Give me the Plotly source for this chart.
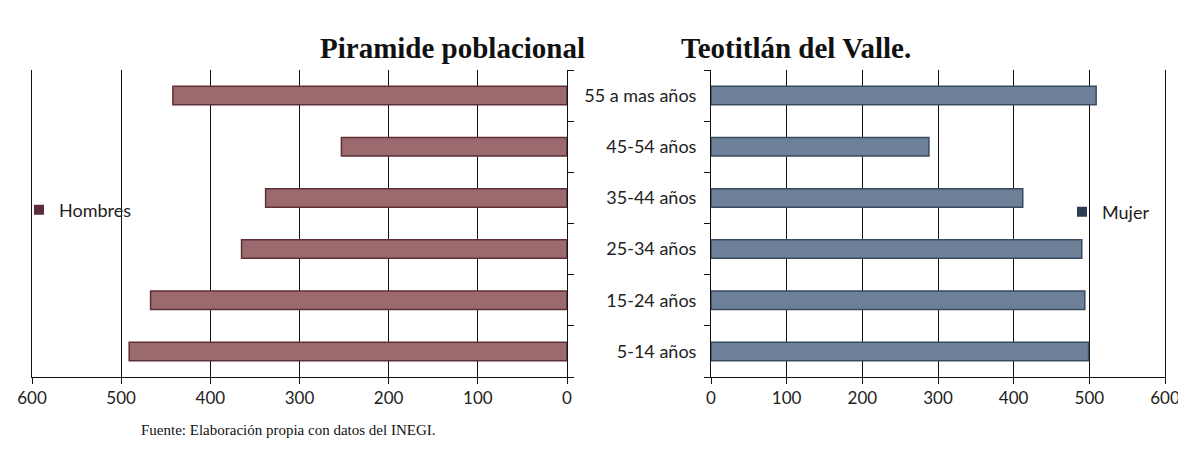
import plotly.graph_objects as go

W, H = 1178, 430
OFF = 8  # page body margin offset

categories = ["5-14 años", "15-24 años", "25-34 años", "35-44 años", "45-54 años", "55 a mas años"]
hombres = [491, 467, 365, 338, 253, 442]
mujeres = [499, 494, 490, 412, 288, 509]
ticks_vals = [0, 100, 200, 300, 400, 500, 600]
ticks_text = ["0", "100", "200", "300", "400", "500", "600"]

def px(x):
    return (x - OFF) / W

def py(y):
    return 1 - (y - OFF) / H

fig = go.Figure()

fig.add_trace(go.Bar(
    y=categories, x=hombres, orientation="h", name="Hombres",
    xaxis="x", yaxis="y", width=0.36, showlegend=False,
    marker=dict(color="#9b6a6e", line=dict(color="#5e2f36", width=1.5)),
))
fig.add_trace(go.Bar(
    y=categories, x=mujeres, orientation="h", name="Mujer",
    xaxis="x2", yaxis="y2", width=0.36, showlegend=False,
    marker=dict(color="#6c8098", line=dict(color="#3a4a5f", width=1.5)),
))
# legend entries
fig.add_trace(go.Scatter(
    x=[None], y=[None], mode="markers", name="Hombres", xaxis="x", yaxis="y",
    marker=dict(symbol="square", size=10, color="#5c2c3b"), legend="legend",
))
fig.add_trace(go.Scatter(
    x=[None], y=[None], mode="markers", name="Mujer", xaxis="x2", yaxis="y2",
    marker=dict(symbol="square", size=10, color="#2f3e54"), legend="legend2",
))

FONT = "Lato, Carlito, Calibri, sans-serif"
tickfont = dict(family=FONT, size=17, color="#222")
ydom = [py(377), py(70)]

fig.update_layout(
    width=W, height=H,
    margin=dict(l=0, r=0, t=0, b=0, autoexpand=False),
    paper_bgcolor="white", plot_bgcolor="white",
    showlegend=True,
    xaxis=dict(
        domain=[px(32), px(567)], range=[600, 0], tickvals=ticks_vals, ticktext=ticks_text,
        showgrid=True, gridcolor="#111", gridwidth=1, zeroline=False,
        showline=True, linecolor="#111", linewidth=1,
        ticks="outside", ticklen=6, tickcolor="#111", tickfont=tickfont,
        anchor="y", automargin=False, ticklabeloverflow="allow",
    ),
    yaxis=dict(
        domain=ydom, type="category", categoryorder="array", categoryarray=categories,
        range=[-0.5, 5.5], side="right", anchor="x", showticklabels=False,
        showline=True, linecolor="#111", linewidth=1, showgrid=False, mirror=True,
        ticks="outside", tickson="boundaries", ticklen=6, tickcolor="#111",
        automargin=False,
    ),
    xaxis2=dict(
        domain=[px(711), px(1165)], range=[0, 600], tickvals=ticks_vals, ticktext=ticks_text,
        showgrid=True, gridcolor="#111", gridwidth=1, zeroline=False,
        showline=True, linecolor="#111", linewidth=1,
        ticks="outside", ticklen=6, tickcolor="#111", tickfont=tickfont,
        anchor="y2", automargin=False, ticklabeloverflow="allow",
    ),
    yaxis2=dict(
        domain=ydom, type="category", categoryorder="array", categoryarray=categories,
        range=[-0.5, 5.5], side="left", anchor="x2",
        showline=True, linecolor="#111", linewidth=1, showgrid=False, mirror=True,
        ticks="outside", tickson="boundaries", ticklen=6, tickcolor="#111",
        tickfont=dict(family=FONT, size=18, color="#222"),
        ticklabelstandoff=10, automargin=False,
    ),
    legend=dict(
        x=px(19), y=py(210), xanchor="left", yanchor="middle",
        font=dict(family=FONT, size=18, color="#222"),
        bgcolor="rgba(0,0,0,0)", itemwidth=30,
    ),
    legend2=dict(
        x=px(1062), y=py(212), xanchor="left", yanchor="middle",
        font=dict(family=FONT, size=18, color="#222"),
        bgcolor="rgba(0,0,0,0)", itemwidth=30,
    ),
    annotations=[
        dict(text="<b>Piramide poblacional</b>", x=px(318), y=py(48), xref="paper", yref="paper",
             xanchor="left", yanchor="middle", showarrow=False,
             font=dict(family="Liberation Serif, Times New Roman, serif", size=29, color="#111")),
        dict(text="<b>Teotitlán del Valle.</b>", x=px(679), y=py(48), xref="paper", yref="paper",
             xanchor="left", yanchor="middle", showarrow=False,
             font=dict(family="Liberation Serif, Times New Roman, serif", size=29, color="#111")),
        dict(text="Fuente: Elaboración propia con datos del INEGI.", x=px(139), y=py(430),
             xref="paper", yref="paper", xanchor="left", yanchor="middle", showarrow=False,
             font=dict(family="Liberation Serif, Times New Roman, serif", size=15, color="#111")),
    ],
)

fig.write_html("out.html")
